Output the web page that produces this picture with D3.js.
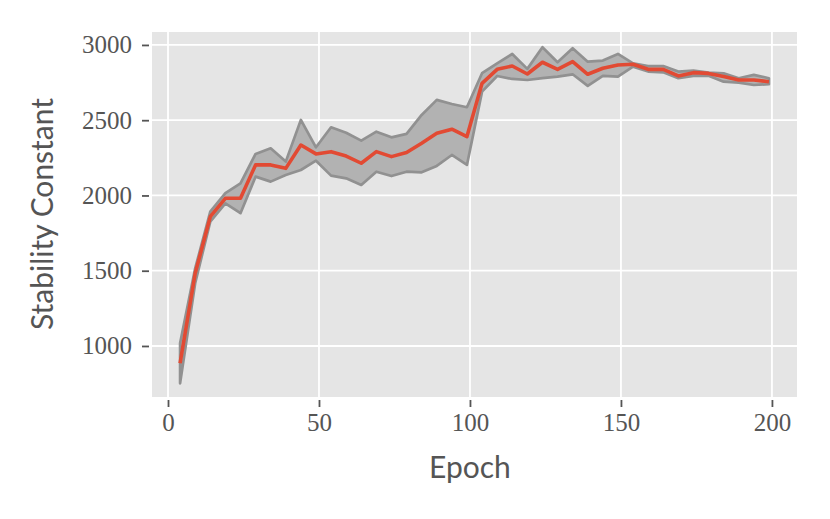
<!DOCTYPE html>
<html>
<head>
<meta charset="utf-8">
<script src="https://cdn.jsdelivr.net/npm/d3@7"></script>
<style>
  body { margin: 0; background: #fff; }
  svg { display: block; }
</style>
</head>
<body>
<svg id="vis" width="830" height="519"></svg>
<script>
// stability constant over training, mean with min/max band
const epochs = [4, 9, 14, 19, 24, 29, 34, 39, 44, 49, 54, 59, 64, 69, 74, 79, 84, 89, 94, 99,
    104, 109, 114, 119, 124, 129, 134, 139, 144, 149, 154, 159, 164, 169, 174, 179, 184, 189, 194, 199];
const meanVals = [885, 1483, 1859, 1981, 1981, 2203, 2203, 2180, 2335, 2276, 2291, 2262, 2214, 2291, 2258, 2285, 2347, 2413, 2440, 2391,
    2745, 2838, 2860, 2807, 2885, 2838, 2889, 2805, 2845, 2867, 2872, 2838, 2838, 2794, 2816, 2811, 2790, 2767, 2767, 2756];
const upperVals = [1018, 1516, 1892, 2015, 2081, 2276, 2313, 2225, 2502, 2320, 2453, 2417, 2364, 2424, 2386, 2409, 2535, 2635, 2608, 2586,
    2812, 2878, 2940, 2841, 2985, 2885, 2978, 2889, 2896, 2940, 2878, 2860, 2860, 2823, 2829, 2816, 2811, 2779, 2801, 2779];
const lowerVals = [752, 1417, 1826, 1948, 1882, 2125, 2092, 2136, 2169, 2231, 2132, 2114, 2070, 2158, 2129, 2158, 2154, 2196, 2269, 2203,
    2690, 2794, 2774, 2767, 2779, 2790, 2805, 2728, 2794, 2790, 2856, 2823, 2818, 2779, 2794, 2796, 2756, 2750, 2734, 2739];
const xTicks = [0, 50, 100, 150, 200];
const yTicks = [1000, 1500, 2000, 2500, 3000];

const svg = d3.select('#vis');
const plotLeft = 152, plotRight = 797, plotTop = 32, plotBottom = 397;

const x = d3.scaleLinear().domain([-5.3, 208.3]).range([plotLeft, plotRight]);
const y = d3.scaleLinear().domain([661, 3086]).range([plotBottom, plotTop]);

const rows = epochs.map(function (e, i) {
    return {epoch: e, mean: meanVals[i], lo: lowerVals[i], hi: upperVals[i]};
});

// background
svg.append('rect')
    .attr('x', plotLeft).attr('y', plotTop)
    .attr('width', plotRight - plotLeft).attr('height', plotBottom - plotTop)
    .attr('fill', '#e5e5e5');

// grid
svg.append('g').selectAll('line')
    .data(xTicks).enter().append('line')
    .attr('x1', d => x(d)).attr('x2', d => x(d))
    .attr('y1', plotTop).attr('y2', plotBottom)
    .attr('stroke', '#fff').attr('stroke-width', 1.8);

svg.append('g').selectAll('line')
    .data(yTicks).enter().append('line')
    .attr('x1', plotLeft).attr('x2', plotRight)
    .attr('y1', d => y(d)).attr('y2', d => y(d))
    .attr('stroke', '#fff').attr('stroke-width', 1.8);

// band
const area = d3.area()
    .x(d => x(d.epoch))
    .y0(d => y(d.lo))
    .y1(d => y(d.hi));

svg.append('path')
    .datum(rows)
    .attr('d', area)
    .attr('fill', '#b2b2b2')
    .attr('stroke', '#919191')
    .attr('stroke-width', 2.7)
    .attr('stroke-linejoin', 'round');

// mean line
const line = d3.line()
    .x(d => x(d.epoch))
    .y(d => y(d.mean));

svg.append('path')
    .datum(rows)
    .attr('d', line)
    .attr('fill', 'none')
    .attr('stroke', '#e24a33')
    .attr('stroke-width', 3.6)
    .attr('stroke-linejoin', 'round');

// axes
const xAxis = d3.axisBottom(x).tickValues(xTicks).tickFormat(d3.format('d')).tickSize(7).tickPadding(6);
const yAxis = d3.axisLeft(y).tickValues(yTicks).tickFormat(d3.format('d')).tickSize(7).tickPadding(10);

const gx = svg.append('g')
    .attr('transform', 'translate(0,' + (plotBottom + 3) + ')')
    .call(xAxis);
const gy = svg.append('g')
    .attr('transform', 'translate(' + (plotLeft - 3) + ',0)')
    .call(yAxis);

[gx, gy].forEach(function (g) {
    g.select('.domain').remove();
    g.selectAll('.tick line').attr('stroke', '#555').attr('stroke-width', 1.8);
    g.selectAll('.tick text')
        .attr('fill', '#555')
        .style('font-family', '"Liberation Serif", "DejaVu Serif", serif')
        .style('font-size', '25px');
});

// titles
svg.append('text')
    .attr('x', x(100)).attr('y', 478)
    .attr('text-anchor', 'middle')
    .attr('fill', '#555')
    .style('font-family', 'Lato, "Open Sans", sans-serif')
    .style('font-size', '30px')
    .text('Epoch');

svg.append('text')
    .attr('transform', 'translate(53,' + 214 + ') rotate(-90)')
    .attr('text-anchor', 'middle')
    .attr('fill', '#555')
    .style('font-family', 'Lato, "Open Sans", sans-serif')
    .style('font-size', '30px')
    .text('Stability Constant');
</script>
</body>
</html>
